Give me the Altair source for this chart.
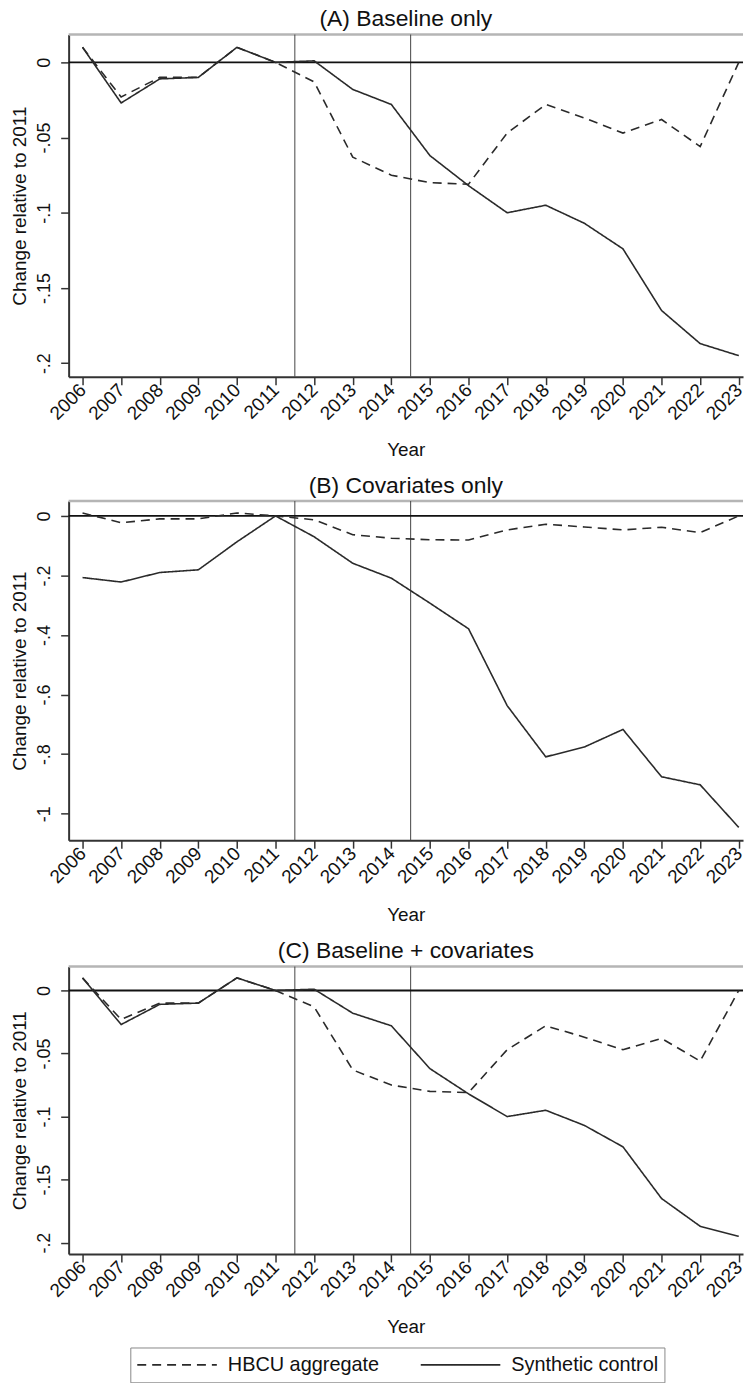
import altair as alt
import pandas as pd

years = list(range(2006, 2024))
series_names = ["HBCU aggregate", "Synthetic control"]
period_breaks = [2011.5, 2014.5]

# Panel A: Baseline only
hbcu_a = [0.010, -0.023, -0.010, -0.010, 0.010, 0.000, -0.013, -0.063, -0.075, -0.080,
          -0.081, -0.047, -0.028, -0.037, -0.047, -0.038, -0.056, 0.000]
synth_a = [0.010, -0.027, -0.011, -0.010, 0.010, 0.000, 0.001, -0.018, -0.028, -0.062,
           -0.082, -0.100, -0.095, -0.107, -0.124, -0.165, -0.187, -0.195]
# Panel B: Covariates only
hbcu_b = [0.010, -0.023, -0.010, -0.010, 0.010, 0.000, -0.013, -0.063, -0.075, -0.080,
          -0.081, -0.047, -0.028, -0.037, -0.047, -0.038, -0.056, 0.000]
synth_b = [-0.207, -0.222, -0.190, -0.181, -0.087, 0.000, -0.070, -0.159, -0.209, -0.293,
           -0.379, -0.637, -0.809, -0.776, -0.717, -0.876, -0.903, -1.046]
# Panel C: Baseline + covariates
hbcu_c = [0.010, -0.023, -0.010, -0.010, 0.010, 0.000, -0.013, -0.063, -0.075, -0.080,
          -0.081, -0.047, -0.028, -0.037, -0.047, -0.038, -0.056, 0.000]
synth_c = [0.010, -0.027, -0.011, -0.010, 0.010, 0.000, 0.001, -0.018, -0.028, -0.062,
           -0.082, -0.100, -0.095, -0.107, -0.124, -0.165, -0.187, -0.195]

titles = ["(A) Baseline only", "(B) Covariates only", "(C) Baseline + covariates"]
ticks_small = [0, -0.05, -0.1, -0.15, -0.2]
ticks_large = [0, -0.2, -0.4, -0.6, -0.8, -1]

FONT = "Liberation Sans"
INK = "#2a2a2a"
W = 678

legend_def = alt.Legend(
    title=None, orient="none", legendX=62, legendY=1320, direction="horizontal",
    symbolType="stroke", symbolSize=6400, symbolStrokeWidth=1.6, symbolStrokeColor=INK,
    labelFont=FONT, labelFontSize=20, labelColor="#111", labelOffset=10, labelLimit=400,
    columnPadding=40, padding=6, clipHeight=23, strokeColor="#888", fillColor="white",
)


def panel(title, hbcu, synth, ydom, yticks, h, xtitle_pad):
    df = pd.DataFrame({
        "year": years + years,
        "value": hbcu + synth,
        "series": [series_names[0]] * len(years) + [series_names[1]] * len(years),
    })
    xenc = alt.X(
        "year:Q",
        scale=alt.Scale(domain=[2005.64, 2023.11], nice=False, zero=False),
        axis=alt.Axis(values=years, format="d", labelAngle=315, labelAlign="right",
                      labelBaseline="middle", labelFontSize=19, labelPadding=2,
                      labelOverlap=False, labelBound=False, labelFlush=False,
                      title="Year", titleFontSize=19, titlePadding=xtitle_pad),
    )
    yenc = alt.Y(
        "value:Q",
        scale=alt.Scale(domain=ydom, nice=False, zero=False),
        axis=alt.Axis(values=yticks,
                      labelExpr="datum.value == 0 ? '0' : replace(toString(datum.value), '0.', '.')",
                      labelAngle=270, labelAlign="center", labelBaseline="bottom",
                      labelFontSize=18, labelPadding=7, labelOverlap=False,
                      title="Change relative to 2011", titleFontSize=19, titlePadding=6),
    )
    vlines = alt.Chart(pd.DataFrame({"year": period_breaks})).mark_rule(
        color="#444", strokeWidth=1).encode(x=xenc)
    zero = alt.Chart(pd.DataFrame({"value": [0]})).mark_rule(
        color="#111", strokeWidth=1.8).encode(y=yenc)
    top = alt.Chart(pd.DataFrame({"value": [ydom[1]]})).mark_rule(
        color="#b5b5b5", strokeWidth=2.5).encode(y=yenc)
    lines = alt.Chart(df).mark_line(color=INK, strokeWidth=1.6).encode(
        x=xenc, y=yenc,
        strokeDash=alt.StrokeDash("series:N",
                                  scale=alt.Scale(domain=series_names, range=[[9, 6], [1, 0]]),
                                  legend=legend_def),
    )
    return alt.layer(top, vlines, zero, lines).properties(
        width=W, height=h,
        title=alt.TitleParams(title, anchor="middle"),
    )


pa = panel(titles[0], hbcu_a, synth_a, [-0.209, 0.0185], ticks_small, 344, 17)
pb = panel(titles[1], hbcu_b, synth_b, [-1.089, 0.05], ticks_large, 341, 19)
pc = panel(titles[2], hbcu_c, synth_c, [-0.209, 0.019], ticks_small, 289, 17)

chart = alt.vconcat(pa, pb, pc, spacing=15).properties(
    padding={"left": 10, "top": 4, "right": 0, "bottom": 0}
).configure_view(stroke=None).configure_axis(
    labelFont=FONT, titleFont=FONT, labelColor="#111", titleColor="#111",
    titleFontWeight="normal", domainColor="#333", domainWidth=2,
    tickColor="#333", tickWidth=1.5, tickSize=8, grid=False,
).configure_title(
    font=FONT, fontSize=23, fontWeight="normal", color="#111", offset=2,
)

chart.save("out.html", embed_options={"renderer": "svg", "actions": False})
